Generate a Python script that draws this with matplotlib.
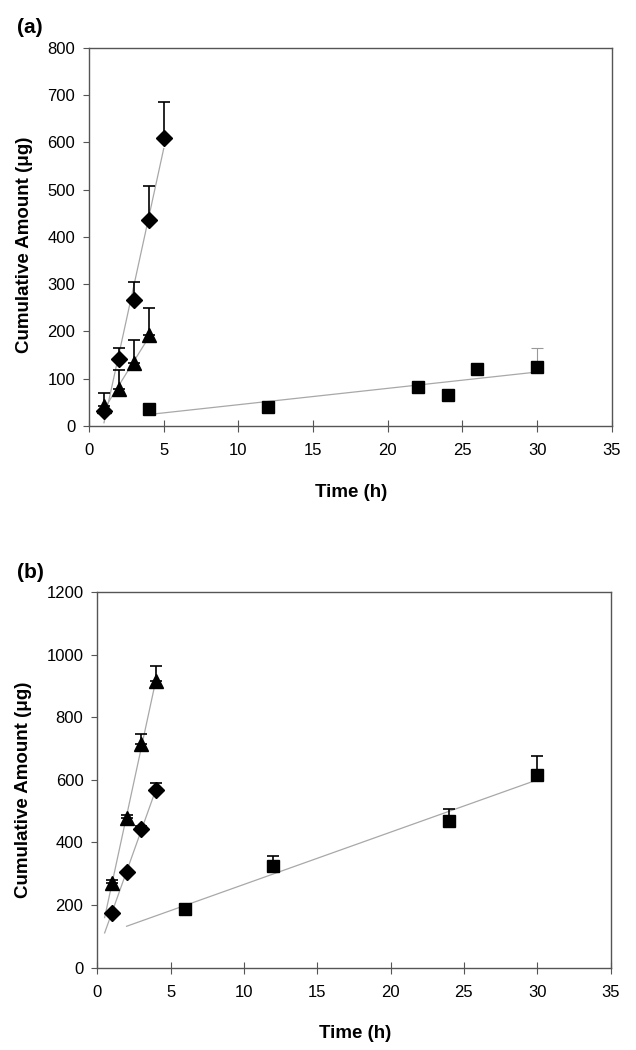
import numpy as np
import matplotlib.pyplot as plt

plt.rcParams['font.family'] = ['Liberation Sans', 'DejaVu Sans']

# panel (a)
a_dia_t = [1, 2, 3, 4, 5]
a_dia_y = [32, 141, 266, 436, 610]
a_dia_err = [0, 25, 39, 71, 76]

a_tri_t = [1, 2, 3, 4]
a_tri_y = [42, 78, 133, 193]
a_tri_err = [28, 40, 48, 56]

a_sq_t = [4, 12, 22, 24, 26, 30]
a_sq_y = [37, 40, 83, 66, 120, 125]
a_sq_err = [0, 0, 0, 0, 0, 39]

# panel (b)
b_tri_t = [1, 2, 3, 4]
b_tri_y = [271, 477, 713, 916]
b_tri_err = [8, 11, 32, 49]

b_dia_t = [1, 2, 3, 4]
b_dia_y = [176, 307, 442, 568]
b_dia_err = [0, 0, 10, 21]

b_sq_t = [6, 12, 24, 30]
b_sq_y = [187, 326, 468, 617]
b_sq_err = [0, 31, 39, 59]

# trendline start (Excel backward forecast)
b_fit_start = {'tri': 0.5, 'dia': 0.5, 'sq': 2}

FRAME = '#555555'
TREND = '#a8a8a8'


def trend(ax, t, y, start=None):
    k, b = np.polyfit(t, y, 1)
    x0 = min(t) if start is None else start
    xs = np.array([x0, max(t)])
    ax.plot(xs, k * xs + b, color=TREND, lw=0.9, zorder=1)


def series(ax, t, y, err, marker, ms, ecolor='black', elw=1.2):
    ax.errorbar(t, y, yerr=[np.zeros(len(err)), err], fmt='none',
                ecolor=ecolor, elinewidth=elw, capsize=4.5, capthick=elw, zorder=2)
    ax.plot(t, y, linestyle='none', marker=marker, ms=ms, color='black', zorder=3)


def style(ax, ymax, ystep):
    ax.set_xlim(0, 35)
    ax.set_ylim(0, ymax)
    ax.set_xticks(range(0, 36, 5))
    ax.set_yticks(range(0, ymax + 1, ystep))
    for s in ax.spines.values():
        s.set_color(FRAME)
        s.set_linewidth(1.0)
    ax.tick_params(axis='x', colors=FRAME, labelcolor='black', labelsize=12,
                   direction='inout', length=9, width=0.8, pad=8)
    ax.tick_params(axis='y', colors=FRAME, labelcolor='black', labelsize=12,
                   direction='out', length=4, width=0.8, pad=6)


def labels(ax, xl_x, xl_y, yl_x, yl_y):
    fig = ax.figure
    bb = ax.get_position()
    fig.text(bb.x0 + xl_x * bb.width, bb.y0 + xl_y * bb.height, 'Time (h)',
             fontsize=13.5, fontweight='bold', ha='center', va='center')
    fig.text(bb.x0 + yl_x * bb.width, bb.y0 + yl_y * bb.height, 'Cumulative Amount (μg)',
             fontsize=13.5, fontweight='bold', ha='center', va='center', rotation=90)


fig = plt.figure(figsize=(6.36, 10.5), dpi=100)

ax1 = fig.add_axes([0.140, 0.5943, 0.822, 0.360])
trend(ax1, a_dia_t, a_dia_y)
trend(ax1, a_tri_t, a_tri_y)
trend(ax1, a_sq_t, a_sq_y)
series(ax1, a_dia_t, a_dia_y, a_dia_err, 'D', 8.5)
series(ax1, a_tri_t, a_tri_y, a_tri_err, '^', 10)
series(ax1, a_sq_t, a_sq_y, a_sq_err, 's', 9, ecolor='#999999', elw=0.8)
style(ax1, 800, 100)
labels(ax1, 0.501, -0.175, -0.124, 0.48)
fig.text(0.027, 0.974, '(a)', fontsize=15, fontweight='bold', va='center')

ax2 = fig.add_axes([0.153, 0.0784, 0.807, 0.3578])
trend(ax2, b_tri_t, b_tri_y, b_fit_start['tri'])
trend(ax2, b_dia_t, b_dia_y, b_fit_start['dia'])
trend(ax2, b_sq_t, b_sq_y, b_fit_start['sq'])
series(ax2, b_tri_t, b_tri_y, b_tri_err, '^', 10)
series(ax2, b_dia_t, b_dia_y, b_dia_err, 'D', 8.5)
series(ax2, b_sq_t, b_sq_y, b_sq_err, 's', 9)
style(ax2, 1200, 200)
labels(ax2, 0.502, -0.174, -0.143, 0.473)
fig.text(0.027, 0.455, '(b)', fontsize=15, fontweight='bold', va='center')

fig.savefig('out.png', dpi=100)
